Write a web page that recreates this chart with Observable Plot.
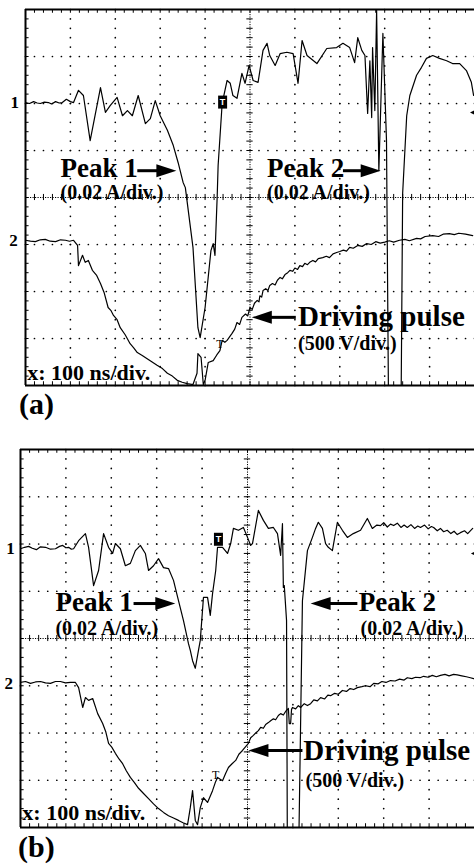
<!DOCTYPE html>
<html><head><meta charset="utf-8">
<script src="https://cdn.jsdelivr.net/npm/d3@7"></script>
<script src="https://cdn.jsdelivr.net/npm/@observablehq/plot@0.6"></script>
<style>
body{margin:0;background:#fff;width:474px;height:865px;position:relative;overflow:hidden;font-family:"Liberation Serif",serif;}
.panel{position:absolute;left:0;}
.lbl{position:absolute;font-weight:bold;font-size:30px;line-height:30px;color:#000;font-family:"Liberation Serif",serif;}
</style></head><body>
<div id="pa" class="panel" style="top:0px"></div>
<div class="lbl" style="left:19px;top:389px">(a)</div>
<div id="pb" class="panel" style="top:440px"></div>
<div class="lbl" style="left:18px;top:832px">(b)</div>
<script>
// ---- DATA (time in ns, amplitude in screen divisions, 0 = bottom, 8 = top) ----
const panelA_peaks = [[0,6.02],[9,6.00],[18,6.04],[26,6.01],[33,6.00],[42,6.03],[51,6.02],[58,5.99],[67,6.04],[75,6.01],[82,6.02],[91,6.09],[100,6.04],[107,6.02],[118,6.28],[129,6.17],[144,5.21],[167,6.34],[178,5.81],[189,5.96],[204,6.13],[216,5.74],[227,5.85],[238,5.74],[251,6.17],[267,5.57],[278,5.68],[289,6.06],[300,5.74],[316,5.43],[329,5.11],[340,4.74],[351,4.32],[356,4.21],[373,2.94],[384,1.23],[389,1.02],[400,1.66],[413,2.87],[418,3.02],[422,2.77],[427,4.04],[429,4.68],[438,6.00],[449,6.49],[456,6.43],[462,6.17],[471,6.11],[482,6.64],[489,6.43],[498,6.81],[507,6.49],[518,6.45],[529,7.13],[538,7.28],[544,7.02],[556,6.81],[567,7.06],[582,7.09],[596,7.06],[607,6.43],[616,7.34],[627,7.02],[649,6.85],[671,7.17],[693,7.19],[707,7.28],[722,7.19],[733,6.87],[740,7.40],[749,7.13],[756,7.02],[762,5.79],[767,6.91],[771,5.70],[773,7.19],[778,5.85],[782,7.98],[787,4.57],[796,7.49],[804,5.21],[809,-1],[836,-1],[840,4.09],[849,5.74],[856,6.17],[871,6.60],[882,6.77],[893,6.96],[907,7.02],[922,6.96],[938,6.91],[951,6.85],[967,6.85],[982,6.70],[993,6.45],[998,6.17]];
const panelA_drive = [[0,3.09],[11,3.07],[22,3.06],[33,3.10],[44,3.11],[55,3.07],[67,3.06],[78,3.10],[89,3.09],[98,3.07],[107,3.09],[116,2.98],[118,2.55],[127,2.77],[133,2.62],[140,2.66],[149,2.45],[158,2.35],[167,2.17],[175,1.98],[184,1.66],[190,1.60],[196,1.49],[204,1.40],[211,1.23],[222,1.08],[233,0.89],[241,0.80],[249,0.70],[260,0.64],[271,0.57],[282,0.50],[293,0.43],[305,0.36],[316,0.26],[327,0.20],[338,0.11],[349,0.07],[360,0.04],[373,0.02],[382,0.26],[384,0.68],[391,0.60],[396,0.02],[400,0.11],[407,0.49],[418,0.53],[426,0.65],[433,0.74],[438,0.96],[444,0.92],[449,0.96],[460,1.11],[466,1.20],[471,1.34],[477,1.30],[482,1.45],[490,1.52],[495,1.48],[500,1.66],[505,1.62],[510,1.75],[516,1.81],[520,1.78],[522,1.91],[526,1.88],[529,2.02],[535,2.06],[540,2.02],[544,2.13],[550,2.17],[556,2.14],[561,2.24],[567,2.30],[572,2.27],[578,2.36],[584,2.40],[589,2.45],[595,2.43],[600,2.50],[606,2.47],[611,2.55],[617,2.53],[622,2.60],[628,2.57],[633,2.62],[640,2.66],[646,2.63],[652,2.70],[662,2.72],[670,2.75],[677,2.72],[685,2.80],[693,2.83],[700,2.85],[708,2.88],[715,2.86],[722,2.94],[730,2.92],[740,2.98],[750,2.96],[760,3.02],[770,3.00],[780,3.06],[790,3.03],[800,3.05],[810,3.08],[820,3.05],[833,3.09],[845,3.11],[855,3.08],[871,3.13],[880,3.12],[890,3.17],[907,3.19],[920,3.17],[930,3.22],[944,3.23],[955,3.21],[965,3.24],[980,3.22],[996,3.19]];
const panelB_peaks = [[0,5.90],[9,5.93],[18,5.95],[26,5.91],[35,5.88],[44,5.94],[55,5.93],[66,5.89],[77,5.90],[86,5.95],[93,5.97],[100,5.92],[106,5.93],[112,5.89],[117,5.90],[128,6.07],[143,6.22],[150,5.93],[161,5.12],[172,5.44],[183,6.22],[194,5.93],[203,5.80],[209,6.01],[220,5.90],[231,5.54],[242,5.59],[253,5.86],[264,5.97],[275,5.80],[282,5.44],[293,5.54],[304,5.69],[315,5.50],[326,5.48],[337,5.23],[348,4.80],[359,4.38],[370,3.89],[374,3.75],[379,3.53],[385,3.37],[392,3.75],[396,3.96],[403,4.87],[412,4.87],[418,4.49],[423,4.95],[430,5.44],[434,5.93],[445,5.93],[456,5.80],[463,6.01],[469,6.33],[480,6.29],[491,6.35],[500,6.14],[507,5.97],[511,6.01],[524,6.71],[535,6.50],[546,6.33],[557,6.35],[566,6.22],[573,5.76],[577,6.43],[579,5.08],[581,5.12],[586,4.38],[588,-1],[612,-1],[621,4.80],[632,5.86],[643,6.14],[650,6.33],[656,6.46],[665,6.33],[672,6.01],[678,5.93],[687,5.86],[698,6.46],[709,6.29],[720,6.14],[733,6.22],[749,6.29],[764,6.54],[775,6.33],[785,6.40],[793,6.39],[800,6.45],[808,6.36],[815,6.42],[822,6.39],[830,6.44],[838,6.35],[845,6.40],[852,6.35],[860,6.41],[868,6.33],[875,6.38],[881,6.35],[890,6.40],[898,6.32],[905,6.37],[910,6.35],[918,6.28],[925,6.33],[932,6.26],[940,6.29],[948,6.22],[955,6.27],[962,6.20],[969,6.24],[978,6.28],[985,6.22],[996,6.33]];
const panelB_drive = [[0,3.07],[11,3.09],[22,3.05],[33,3.08],[44,3.09],[55,3.06],[66,3.05],[77,3.09],[88,3.09],[99,3.06],[110,3.07],[121,3.07],[128,2.96],[137,2.54],[143,2.75],[150,2.69],[159,2.73],[170,2.41],[181,2.20],[188,2.02],[194,1.78],[201,1.70],[209,1.57],[217,1.45],[225,1.35],[233,1.20],[242,1.06],[251,0.95],[260,0.83],[271,0.72],[282,0.61],[293,0.50],[304,0.40],[315,0.32],[326,0.25],[337,0.20],[348,0.15],[358,0.10],[368,0.06],[374,0.42],[379,0.78],[385,0.15],[390,0.06],[396,0.42],[403,0.63],[412,0.53],[423,0.78],[429,0.95],[434,1.06],[440,1.02],[445,0.99],[452,1.15],[458,1.27],[466,1.35],[474,1.42],[481,1.55],[489,1.63],[495,1.70],[502,1.78],[507,1.90],[513,1.95],[518,2.00],[524,2.05],[529,2.12],[535,2.10],[540,2.18],[546,2.22],[551,2.26],[557,2.30],[562,2.28],[568,2.37],[573,2.41],[579,2.38],[585,2.47],[590,2.52],[592,2.20],[595,2.20],[597,2.50],[599,2.54],[606,2.51],[612,2.58],[617,2.54],[625,2.62],[632,2.58],[639,2.62],[646,2.70],[654,2.68],[661,2.75],[670,2.72],[677,2.80],[683,2.79],[692,2.84],[700,2.82],[709,2.90],[718,2.88],[726,2.94],[734,2.92],[742,2.96],[752,2.98],[760,3.00],[770,2.98],[778,3.05],[788,3.04],[796,3.09],[805,3.07],[815,3.11],[825,3.10],[835,3.14],[845,3.12],[852,3.17],[862,3.15],[870,3.18],[880,3.17],[888,3.20],[898,3.18],[907,3.22],[916,3.19],[925,3.22],[935,3.24],[944,3.21],[954,3.24],[962,3.23],[972,3.21],[982,3.19],[991,3.17],[998,3.15]];

// annotations (text + anchor in data coordinates)
const panelA_text = [
  {text:"Peak 1", t:78, v:4.61, role:"peak"},
  {text:"(0.02 A/div.)", t:78, v:4.11, role:"unit"},
  {text:"Peak 2", t:538, v:4.61, role:"peak"},
  {text:"(0.02 A/div.)", t:538, v:4.11, role:"unit"},
  {text:"Driving pulse", t:607, v:1.47, role:"drive"},
  {text:"(500 V/div.)", t:607, v:0.90, role:"unit"},
  {text:"x: 100 ns/div.", t:4, v:0.27, role:"scale"}
];
const panelB_text = [
  {text:"Peak 1", t:77, v:4.76, role:"peak"},
  {text:"(0.02 A/div.)", t:77, v:4.21, role:"unit"},
  {text:"Peak 2", t:745, v:4.76, role:"peak"},
  {text:"(0.02 A/div.)", t:749, v:4.21, role:"unit"},
  {text:"Driving pulse", t:623, v:1.63, role:"drive"},
  {text:"(500 V/div.)", t:628, v:1.00, role:"unit"},
  {text:"x: 100 ns/div.", t:4, v:0.30, role:"scale"}
];
const panelA_channels = [{text:"1", t:-24, v:6.02},{text:"2", t:-27, v:3.09}];
const panelB_channels = [{text:"1", t:-22, v:5.90},{text:"2", t:-26, v:3.05}];
const panelA_arrows = [{from:249,to:336,v:4.57},{from:707,to:791,v:4.57},{from:602,to:504,v:1.45}];
const panelB_arrows = [{from:249,to:341,v:4.74},{from:742,to:639,v:4.74},{from:621,to:502,v:1.63}];
const panelA_trigger = {t:439, v:6.03}, panelA_trigLevel = {t:433, v:0.89}, panelA_edge = {t:990, v:5.81};
const panelB_trigger = {t:436, v:6.10}, panelB_trigLevel = {t:430, v:1.10}, panelB_edge = {t:992, v:5.80};

// ---- styles ----
const fontSizes = {peak:27, unit:20, drive:29, scale:22};
const serif = "Liberation Serif";
const headSymbol = {draw(ctx){ ctx.moveTo(0,0); ctx.lineTo(-6.5,20); ctx.lineTo(6.5,20); ctx.closePath(); }};
const edgeSymbol = {draw(ctx){ ctx.moveTo(0,0); ctx.lineTo(-4,8); ctx.lineTo(4,8); ctx.closePath(); }};
const boxSymbol = {draw(ctx){ ctx.rect(-4.5,-6.5,9,13); }};

function panel(cfg){
  const minorT = d3.range(0, 1000.1, 20);
  const minorV = d3.range(0, 8.001, 0.2);
  const gridT = [100,200,300,400,600,700,800,900];
  const gridV = [1,2,3,5,6,7];
  const gridDots = [...gridT.flatMap(t => minorV.map(v => [t, v])), ...gridV.flatMap(v => minorT.map(t => [t, v]))];
  const X = d => d[0], Y = d => d[1];
  const textMarks = Object.keys(fontSizes).map(role =>
    Plot.text(cfg.text.filter(d => d.role === role), {x:"t", y:"v", text:"text", textAnchor:"start",
      fontSize:fontSizes[role], fontFamily:serif, fontWeight:"bold", fill:"black"}));
  return Plot.plot({
    width:474, height:392, marginLeft:cfg.left, marginRight:0, marginTop:9, marginBottom:cfg.bottom,
    x:{domain:[0,1000], axis:null}, y:{domain:[0,8], axis:null},
    style:{background:"transparent", overflow:"visible"},
    marks:[
      Plot.dot(gridDots, {x:X, y:Y, r:0.85, fill:"black", stroke:null}),
      Plot.ruleY([4], {stroke:"black", strokeWidth:1, strokeDasharray:"1.2,1.3"}),
      Plot.ruleX([500], {stroke:"black", strokeWidth:1, strokeDasharray:"1.2,1.3"}),
      Plot.ruleX(minorT, {x:d=>d, y1:3.935, y2:4.065, stroke:"black", strokeWidth:1}),
      Plot.ruleY(minorV, {y:d=>d, x1:493, x2:507, stroke:"black", strokeWidth:1}),
      Plot.ruleX(minorT, {x:d=>d, y1:8, y2:7.92, stroke:"black", strokeWidth:1}),
      Plot.ruleX(minorT, {x:d=>d, y1:0, y2:0.08, stroke:"black", strokeWidth:1}),
      Plot.ruleY(minorV, {y:d=>d, x1:0, x2:8, stroke:"black", strokeWidth:1}),
      Plot.ruleY([0, 8], {stroke:"black", strokeWidth:2}),
      Plot.ruleX([0], {stroke:"black", strokeWidth:2}),
      Plot.line(cfg.drive, {x:X, y:Y, stroke:"black", strokeWidth:1.2, clip:true}),
      Plot.line(cfg.peaks, {x:X, y:Y, stroke:"black", strokeWidth:1.2, clip:true}),
      Plot.dot([cfg.trigger], {x:"t", y:"v", symbol:boxSymbol, fill:"black", stroke:null}),
      Plot.text([cfg.trigger], {x:"t", y:"v", text:()=>"T", fill:"white", fontSize:9, fontWeight:"bold", fontFamily:"Liberation Sans"}),
      Plot.text([cfg.trigLevel], {x:"t", y:"v", text:()=>"T", fill:"black", fontSize:12, fontFamily:serif}),
      Plot.dot([cfg.edge], {x:"t", y:"v", symbol:edgeSymbol, rotate:-90, fill:"black", stroke:null}),
      Plot.link(cfg.arrows, {x1:"from", x2:d => d.to - Math.sign(d.to - d.from)*30, y1:"v", y2:"v", stroke:"black", strokeWidth:3}),
      Plot.dot(cfg.arrows, {x:"to", y:"v", symbol:headSymbol, rotate:d => d.to > d.from ? 90 : -90, fill:"black", stroke:null}),
      ...textMarks,
      Plot.text(cfg.channels, {x:"t", y:"v", text:"text", fontSize:17, fontFamily:serif, fontWeight:"bold", fill:"black"})
    ]
  });
}

document.getElementById("pa").append(panel({left:25, bottom:7, peaks:panelA_peaks, drive:panelA_drive, text:panelA_text,
  channels:panelA_channels, arrows:panelA_arrows, trigger:panelA_trigger, trigLevel:panelA_trigLevel, edge:panelA_edge}));
document.getElementById("pb").append(panel({left:20, bottom:5, peaks:panelB_peaks, drive:panelB_drive, text:panelB_text,
  channels:panelB_channels, arrows:panelB_arrows, trigger:panelB_trigger, trigLevel:panelB_trigLevel, edge:panelB_edge}));
</script></body></html>
